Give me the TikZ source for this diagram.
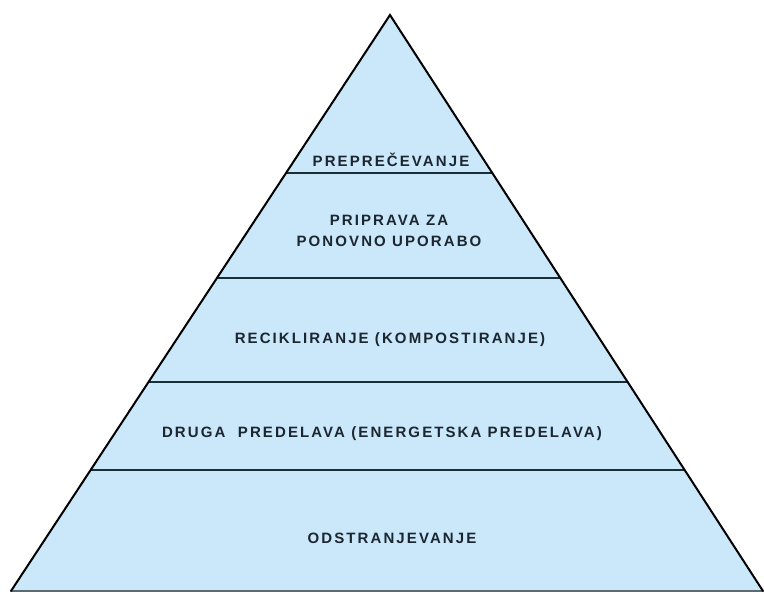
\documentclass[tikz,border=0pt]{standalone}
\usepackage{fontspec}
\setmainfont{Liberation Sans}[LetterSpace=14]
\usetikzlibrary{calc}
\definecolor{pyrfill}{RGB}{202,232,250}
\definecolor{pyrtext}{RGB}{28,38,48}
\definecolor{pyrline}{RGB}{25,45,55}
\definecolor{baseline}{RGB}{95,105,112}
\tikzset{
  lvl/.style={text=pyrtext, font=\fontsize{15}{18}\selectfont\bfseries, align=center, inner sep=0pt},
  divider/.style={draw=pyrline, line width=2.2pt},
  side/.style={draw=black, line width=2pt, line cap=round}
}
\begin{document}
\begin{tikzpicture}[x=1pt,y=-1pt]
\useasboundingbox (0,0) rectangle (764,592);
\coordinate (apex) at (390,15);
\coordinate (bl) at (11,591);
\coordinate (br) at (763,591);
\fill[pyrfill] (apex) -- (bl) -- (br) -- cycle;
% dividers
\foreach \yy/\nm in {173/a,278/b,382/c,470/d}{
  \pgfmathsetmacro{\tt}{(\yy-15)/576}
  \coordinate (L\nm) at ($(apex)!\tt!(bl)$);
  \coordinate (R\nm) at ($(apex)!\tt!(br)$);
  \draw[divider] (L\nm) -- (R\nm);
}
\draw[draw=baseline, line width=3pt] (bl) -- (br);
\draw[side] (bl) -- (apex) -- (br);
% labels
\node[lvl] (t1) at (391,160) {PREPREČEVANJE};
\node[lvl] (t2) at (389,231) {PRIPRAVA ZA\\[3pt]PONOVNO UPORABO};
\node[lvl] (t3) at (390,340) {RECIKLIRANJE (KOMPOSTIRANJE)};
\node[lvl] (t4) at (382,434) {DRUGA\ \ PREDELAVA (ENERGETSKA PREDELAVA)};
\node[lvl] (t5) at (392,538) {ODSTRANJEVANJE};
\end{tikzpicture}
\end{document}
